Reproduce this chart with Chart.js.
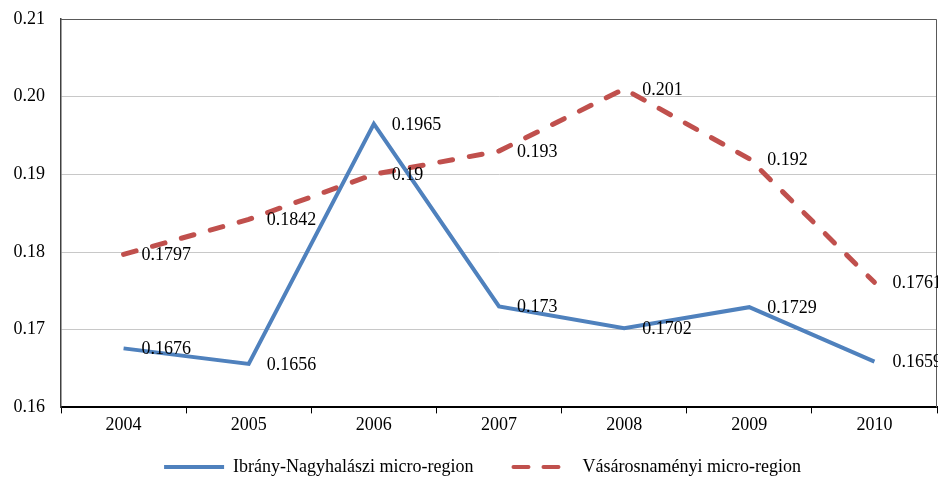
<!DOCTYPE html>
<html>
<head>
<meta charset="utf-8">
<script src="https://cdn.jsdelivr.net/npm/chart.js@4"></script>
<style>
    html, body { margin: 0; padding: 0; background: #fff; }
    #wrap { width: 938px; height: 477px; }
</style>
</head>
<body>
<div id="wrap"><canvas id="microChart"></canvas></div>
<script>
// Chart data
const years = ['2004', '2005', '2006', '2007', '2008', '2009', '2010'];
const ibranyValues = [0.1676, 0.1656, 0.1965, 0.173, 0.1702, 0.1729, 0.1659];
const vasarosValues = [0.1797, 0.1842, 0.19, 0.193, 0.201, 0.192, 0.1761];
const yTicks = [0.16, 0.17, 0.18, 0.19, 0.20, 0.21];

const serif = '"Liberation Serif", "Times New Roman", serif';
const legendGap = 40;

// Draws the value next to every point
const valueLabels = {
    id: 'valueLabels',
    afterDatasetsDraw(chart) {
        const ctx = chart.ctx;
        ctx.save();
        ctx.font = '18px ' + serif;
        ctx.fillStyle = '#000';
        ctx.textBaseline = 'middle';
        ctx.textAlign = 'left';
        chart.data.datasets.forEach((ds, i) => {
            chart.getDatasetMeta(i).data.forEach((pt, j) => {
                ctx.fillText(String(ds.data[j]), pt.x + 18, pt.y + 1);
            });
        });
        ctx.restore();
    }
};

// Thin frame round the plot area (top and right side)
const plotFrame = {
    id: 'plotFrame',
    beforeDatasetsDraw(chart) {
        const a = chart.chartArea;
        const ctx = chart.ctx;
        ctx.save();
        ctx.strokeStyle = '#595959';
        ctx.lineWidth = 1;
        ctx.beginPath();
        ctx.moveTo(a.left, a.top + 0.5);
        ctx.lineTo(a.right - 0.5, a.top + 0.5);
        ctx.lineTo(a.right - 0.5, a.bottom);
        ctx.stroke();
        ctx.restore();
    }
};

// Move the legend row to where it sits in the original
const legendNudge = {
    id: 'legendNudge',
    afterLayout(chart) {
        const lg = chart.legend;
        lg.top = 467 - legendGap - 9;
        lg.bottom = chart.height;
        lg.height = lg.bottom - lg.top;
        lg.left += 14;
        lg.right += 14;
    }
};

new Chart(document.getElementById('microChart').getContext('2d'), {
    type: 'line',
    data: {
        labels: years,
        datasets: [{
            label: 'Ibrány-Nagyhalászi micro-region',
            data: ibranyValues,
            borderColor: '#4F81BD',
            backgroundColor: '#4F81BD',
            borderWidth: 4,
            pointRadius: 0,
            tension: 0
        }, {
            label: 'Vásárosnaményi micro-region',
            data: vasarosValues,
            borderColor: '#C0504D',
            backgroundColor: '#C0504D',
            borderWidth: 5,
            borderDash: [13, 17],
            borderCapStyle: 'round',
            pointRadius: 0,
            tension: 0
        }]
    },
    options: {
        responsive: true,
        maintainAspectRatio: false,
        animation: false,
        layout: {
            padding: { left: 0, right: 1, top: 19, bottom: 0 }
        },
        scales: {
            x: {
                offset: true,
                grid: {
                    offset: true,
                    drawOnChartArea: false,
                    drawTicks: true,
                    tickLength: 6,
                    color: '#000',
                    lineWidth: 1
                },
                border: { color: '#000', width: 2 },
                ticks: {
                    color: '#000',
                    padding: 1,
                    font: { family: serif, size: 18 }
                }
            },
            y: {
                min: 0.16,
                max: 0.21,
                afterBuildTicks(scale) {
                    scale.ticks = yTicks.map(v => ({ value: v }));
                },
                afterFit(scale) {
                    scale.width = 61;
                    scale.paddingTop = 0;
                    scale.paddingBottom = 0;
                },
                grid: {
                    color: '#C8C8C8',
                    lineWidth: 1,
                    drawTicks: false
                },
                border: { color: '#404040', width: 1.5 },
                ticks: {
                    color: '#000',
                    padding: 16,
                    font: { family: serif, size: 18 },
                    callback: v => v.toFixed(2)
                }
            }
        },
        plugins: {
            legend: {
                position: 'bottom',
                maxHeight: 40,
                labels: {
                    usePointStyle: true,
                    pointStyle: 'line',
                    pointStyleWidth: 60,
                    color: '#000',
                    padding: legendGap,
                    font: { family: serif, size: 18 },
                    generateLabels(chart) {
                        const items = Chart.defaults.plugins.legend.labels.generateLabels(chart);
                        items.forEach(item => {
                            const ds = chart.data.datasets[item.datasetIndex];
                            item.lineWidth = 4;
                            item.strokeStyle = ds.borderColor;
                            item.lineDash = ds.borderDash ? [15, 15] : [];
                            item.lineCap = ds.borderDash ? 'round' : 'butt';
                        });
                        return items;
                    }
                }
            },
            tooltip: { enabled: false }
        }
    },
    plugins: [valueLabels, plotFrame, legendNudge]
});
</script>
</body>
</html>
